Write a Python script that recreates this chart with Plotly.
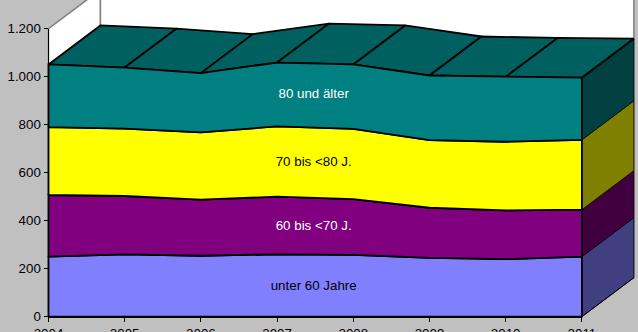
import numpy as np
import plotly.graph_objects as go

years = [2004, 2005, 2006, 2007, 2008, 2009, 2010, 2011]
unter_60 = [250, 260, 254, 260, 258, 245, 240, 250]
bis_70 = [257, 243, 234, 240, 232, 209, 203, 196]
bis_80 = [283, 281, 280, 293, 293, 282, 286, 291]
ab_80 = [261, 254, 247, 266, 268, 269, 270, 259]
series_names = ["unter 60 Jahre", "60 bis <70 J.", "70 bis <80 J.", "80 und älter"]
y_ticks = [0, 200, 400, 600, 800, 1000, 1200]
y_tick_labels = ["0", "200", "400", "600", "800", "1.000", "1.200"]

FRONT = ["#8080FF", "#800080", "#FFFF00", "#008080"]
SIDE = ["#404080", "#400040", "#808000", "#004040"]
TOP = "#006060"
TEXT = ["#000000", "#FFFFFF", "#000000", "#FFFFFF"]
LABEL_X = 2007.48
LABEL_Y = [124, 374, 641, 924]
DX, DY = 0.682, 162.5
WALL = "#808080"

x = np.array(years, float)
bands = np.cumsum([unter_60, bis_70, bis_80, ab_80], axis=0)
bands = np.vstack([np.zeros(len(x)), bands])

fig = go.Figure()


def poly(px, py, fill=None, line="#000000", width=1.8):
    fig.add_trace(go.Scatter(
        x=list(px), y=list(py), mode="lines",
        fill="toself" if fill else "none", fillcolor=fill,
        line=dict(color=line, width=width),
        hoverinfo="skip", showlegend=False))


x0, x1 = x[0], x[-1]
# walls
poly([x0, x0, x0 + DX, x0 + DX, x0], [0, 1200, 1200 + DY, DY, 0], "#FFFFFF", WALL, 1.5)
poly([x0 + DX, x0 + DX, x1 + DX, x1 + DX, x0 + DX],
     [DY, 1200 + DY, 1200 + DY, DY, DY], "#FFFFFF", WALL, 1.5)

# top surface
top = bands[-1]
for i in range(len(x) - 1):
    poly([x[i], x[i + 1], x[i + 1] + DX, x[i] + DX, x[i]],
         [top[i], top[i + 1], top[i + 1] + DY, top[i] + DY, top[i]], TOP)

# side faces
for k in range(4):
    lo, hi = bands[k][-1], bands[k + 1][-1]
    poly([x1, x1 + DX, x1 + DX, x1, x1], [lo, lo + DY, hi + DY, hi, lo], SIDE[k], "#000000", 0.8)
poly([x1, x1 + DX], [top[-1], top[-1] + DY])
poly([x1, x1 + DX], [0, DY], None, "#000000", 1)

# front faces
for k in range(4):
    poly(np.r_[x, x[::-1], x[0]],
         np.r_[bands[k], bands[k + 1][::-1], bands[k][0]], FRONT[k])

fig.add_trace(go.Scatter(
    x=[LABEL_X] * 4, y=LABEL_Y, mode="text", text=series_names,
    textfont=dict(color=TEXT, size=13.33, family="Liberation Sans"),
    textposition="middle center", hoverinfo="skip", showlegend=False))

# invisible trace so the tick-bearing axes are drawn
fig.add_trace(go.Scatter(x=years, y=[0] * len(years), xaxis="x2", yaxis="y2", mode="none",
                         hoverinfo="skip", showlegend=False))

W, H = 638, 332
X_PX, Y_PX = 76.2, 0.24
LEFT, ZERO = 48.5, 316.7
RIGHT = LEFT + X_PX * (x1 - x0)
TOP_PX = ZERO - Y_PX * 1200
tick_font = dict(family="Liberation Sans", size=13.33, color="#000000")
hidden = dict(visible=False, showgrid=False, zeroline=False)
fig.update_layout(
    width=W, height=H, margin=dict(l=0, r=0, t=0, b=0),
    paper_bgcolor="#C0C0C0", plot_bgcolor="rgba(0,0,0,0)", showlegend=False,
    xaxis=dict(range=[x0 - LEFT / X_PX, x0 + (W - LEFT) / X_PX], domain=[0, 1], anchor="y", **hidden),
    yaxis=dict(range=[-(H - ZERO) / Y_PX, ZERO / Y_PX], domain=[0, 1], anchor="x", **hidden),
    xaxis2=dict(range=[x0, x1], domain=[LEFT / W, RIGHT / W], anchor="y2",
                tickmode="array", tickvals=years, ticktext=[str(v) for v in years],
                ticks="outside", ticklen=4, tickcolor="#000000", tickwidth=1,
                showgrid=False, zeroline=False, showline=True, linecolor="#000000", linewidth=1,
                tickfont=tick_font, automargin=False),
    yaxis2=dict(range=[0, 1200], domain=[(H - ZERO) / H, (H - TOP_PX) / H], anchor="x2",
                tickmode="array", tickvals=y_ticks, ticktext=y_tick_labels,
                ticks="outside", ticklen=4, tickcolor="#000000", tickwidth=1,
                showgrid=False, zeroline=False, showline=True, linecolor="#000000", linewidth=1,
                tickfont=tick_font, automargin=False),
)
fig.write_html("out.html", config={"displayModeBar": False},
               post_script="document.body.style.margin='0';document.body.style.overflow='hidden';")
